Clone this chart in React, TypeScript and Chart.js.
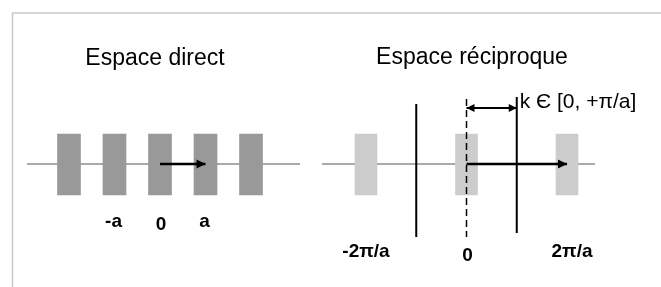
import React, { useEffect, useRef } from 'react';
import { Chart, registerables } from 'chart.js';

Chart.register(...registerables);

// ---- data (in lattice units) ----
const directSites = [-2, -1, 0, 1, 2];           // multiples of a
const directLabelPos = [-1, 0, 1];
const directLabels = ['-a', '0', 'a'];
const directVector = [0, 1];                       // arrow 0 -> a

const reciprocalSites = [-1, 0, 1];               // multiples of 2π/a
const reciprocalLabelPos = [-1, 0, 1];
const reciprocalLabels = ['-2π/a', '0', '2π/a'];
const zoneBounds = [-0.5, 0.5];                   // ±π/a
const reciprocalVector = [0, 1];                  // arrow 0 -> 2π/a
const kRange = [0, 0.5];                          // k ∈ [0, +π/a]

const titles = ['Espace direct', 'Espace réciproque'];
const kText = 'k Є [0, +π/a]';

// ---- layout (pixels) ----
const W = 661;
const H = 287;
const D_ORIGIN = 160;
const D_STEP = 45.5;
const R_ORIGIN = 466.5;
const R_STEP = 100.5;
const AXIS_Y = 164;
const RECT_TOP = 134;
const RECT_BOTTOM = 195;
const K_ARROW_Y = 108;
const FONT = '"Liberation Sans", Arial, Helvetica, sans-serif';

const dx = (px: number) => (px - D_ORIGIN) / D_STEP;
const rx = (px: number) => (px - R_ORIGIN) / R_STEP;

const arrowPlugin = {
  id: 'arrowHeads',
  afterDatasetsDraw(chart: any) {
    const ctx = chart.ctx;
    chart.data.datasets.forEach((ds: any, i: number) => {
      if (!ds.arrowEnds) return;
      const meta = chart.getDatasetMeta(i);
      const pts = meta.data;
      if (pts.length < 2) return;
      const drawHead = (tip: any, from: any) => {
        const ang = Math.atan2(tip.y - from.y, tip.x - from.x);
        const len = ds.headLength || 9;
        const hw = ds.headWidth || 4;
        ctx.save();
        ctx.translate(tip.x, tip.y);
        ctx.rotate(ang);
        ctx.beginPath();
        ctx.moveTo(0, 0);
        ctx.lineTo(-len, -hw);
        ctx.lineTo(-len, hw);
        ctx.closePath();
        ctx.fillStyle = ds.borderColor;
        ctx.fill();
        ctx.restore();
      };
      const last = pts[pts.length - 1];
      const prev = pts[pts.length - 2];
      if (ds.arrowEnds.includes('end')) drawHead(last, prev);
      if (ds.arrowEnds.includes('start')) drawHead(pts[0], pts[1]);
    });
  },
};

const framePlugin = {
  id: 'frame',
  beforeDraw(chart: any) {
    const ctx = chart.ctx;
    ctx.save();
    ctx.fillStyle = '#ffffff';
    ctx.fillRect(0, 0, W, H);
    ctx.strokeStyle = '#c8c8c8';
    ctx.lineWidth = 1.5;
    ctx.beginPath();
    ctx.moveTo(W, 13);
    ctx.lineTo(12.5, 13);
    ctx.lineTo(12.5, H);
    ctx.stroke();
    ctx.restore();
  },
};

const textPlugin = {
  id: 'texts',
  afterDatasetsDraw(chart: any) {
    const ctx = chart.ctx;
    const xd = chart.scales.xd;
    const xr = chart.scales.xr;
    ctx.save();
    ctx.fillStyle = '#000000';
    ctx.textBaseline = 'alphabetic';

    ctx.font = `23px ${FONT}`;
    ctx.textAlign = 'center';
    ctx.fillText(titles[0], 155, 65);
    ctx.fillText(titles[1], 472, 64);

    ctx.font = `21px ${FONT}`;
    ctx.textAlign = 'left';
    ctx.fillText(kText, xr.getPixelForValue(zoneBounds[1]) + 3, 108);

    ctx.font = `bold 19px ${FONT}`;
    ctx.textAlign = 'center';
    directLabels.forEach((t, i) => {
      const px = xd.getPixelForValue(directLabelPos[i]);
      ctx.fillText(t, px + (t === 'a' ? -1 : t === '0' ? 1 : -1), t === '0' ? 230 : 227);
    });
    reciprocalLabels.forEach((t, i) => {
      const px = xr.getPixelForValue(reciprocalLabelPos[i]);
      ctx.fillText(t, px + (i === 2 ? 5 : i === 1 ? 1 : 0), t === '0' ? 261 : 257);
    });
    ctx.restore();
  },
};

export default function App() {
  const ref = useRef<HTMLCanvasElement | null>(null);

  useEffect(() => {
    if (!ref.current) return;
    const lineBase = {
      type: 'line' as const,
      pointRadius: 0,
      fill: false,
      tension: 0,
    };
    const chart = new Chart(ref.current, {
      type: 'bar',
      data: {
        datasets: [
          // axis lines (bottom)
          {
            ...lineBase,
            xAxisID: 'xd',
            data: [{ x: dx(27), y: AXIS_Y }, { x: dx(300), y: AXIS_Y }],
            borderColor: '#555555',
            borderWidth: 1,
            order: 10,
          } as any,
          {
            ...lineBase,
            xAxisID: 'xr',
            data: [{ x: rx(322), y: AXIS_Y }, { x: rx(595), y: AXIS_Y }],
            borderColor: '#555555',
            borderWidth: 1,
            order: 10,
          } as any,
          // lattice sites
          {
            type: 'bar',
            xAxisID: 'xd',
            data: directSites.map((x) => ({ x, y: [RECT_TOP, RECT_BOTTOM] })),
            backgroundColor: '#999999',
            borderWidth: 0,
            barThickness: 23,
            grouped: false,
            order: 5,
          } as any,
          {
            type: 'bar',
            xAxisID: 'xr',
            data: reciprocalSites.map((x) => ({ x, y: [RECT_TOP, RECT_BOTTOM] })),
            backgroundColor: '#cccccc',
            borderWidth: 0,
            barThickness: 22,
            grouped: false,
            order: 5,
          } as any,
          // zone boundaries
          {
            ...lineBase,
            xAxisID: 'xr',
            data: [{ x: zoneBounds[0], y: 104 }, { x: zoneBounds[0], y: 237 }],
            borderColor: '#000000',
            borderWidth: 2,
            order: 1,
          } as any,
          {
            ...lineBase,
            xAxisID: 'xr',
            data: [{ x: zoneBounds[1], y: 97 }, { x: zoneBounds[1], y: 233 }],
            borderColor: '#000000',
            borderWidth: 2,
            order: 1,
          } as any,
          // dashed origin line
          {
            ...lineBase,
            xAxisID: 'xr',
            data: [{ x: 0, y: 99 }, { x: 0, y: 237 }],
            borderColor: '#000000',
            borderWidth: 1.5,
            borderDash: [7, 4],
            order: 1,
          } as any,
          // direct vector
          {
            ...lineBase,
            xAxisID: 'xd',
            data: directVector.map((x) => ({ x, y: AXIS_Y })),
            borderColor: '#000000',
            borderWidth: 2.5,
            arrowEnds: ['end'],
            headLength: 9,
            headWidth: 4.5,
            order: 0,
          } as any,
          // reciprocal vector
          {
            ...lineBase,
            xAxisID: 'xr',
            data: reciprocalVector.map((x) => ({ x, y: AXIS_Y })),
            borderColor: '#000000',
            borderWidth: 2.5,
            arrowEnds: ['end'],
            headLength: 9,
            headWidth: 4.5,
            order: 0,
          } as any,
          // k range double arrow
          {
            ...lineBase,
            xAxisID: 'xr',
            data: kRange.map((x) => ({ x, y: K_ARROW_Y })),
            borderColor: '#000000',
            borderWidth: 2,
            arrowEnds: ['start', 'end'],
            headLength: 8,
            headWidth: 4,
            order: 0,
          } as any,
        ],
      },
      options: {
        animation: false,
        responsive: false,
        events: [],
        layout: { padding: 0 },
        plugins: {
          legend: { display: false },
          tooltip: { enabled: false },
          title: { display: false },
        },
        scales: {
          xd: {
            type: 'linear',
            axis: 'x',
            display: false,
            offset: false,
            min: dx(0),
            max: dx(W),
          },
          xr: {
            type: 'linear',
            axis: 'x',
            display: false,
            offset: false,
            min: rx(0),
            max: rx(W),
          },
          y: {
            type: 'linear',
            display: false,
            reverse: true,
            min: 0,
            max: H,
            beginAtZero: false,
          },
        },
      } as any,
      plugins: [framePlugin, textPlugin, arrowPlugin],
    });
    return () => chart.destroy();
  }, []);

  return (
    <canvas
      ref={ref}
      width={W}
      height={H}
      style={{ position: 'fixed', left: 0, top: 0, width: W, height: H, display: 'block' }}
    />
  );
}
